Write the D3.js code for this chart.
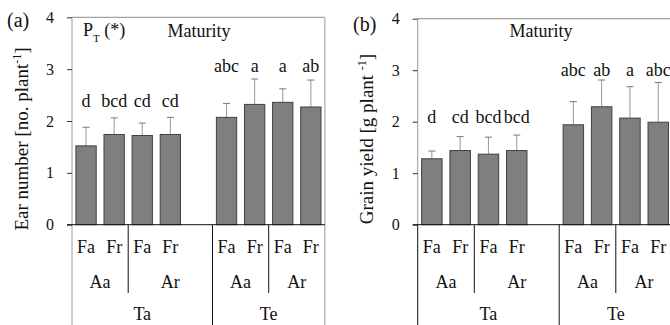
<!DOCTYPE html>
<html>
<head>
<meta charset="utf-8">
<script src="https://cdn.jsdelivr.net/npm/d3@7"></script>
<style>
  body { margin: 0; background: #fff; }
  text { font-family: "Liberation Serif", "Times New Roman", serif; fill: #111; }
</style>
</head>
<body>
<svg id="chart" width="670" height="325"></svg>
<script>
// treatment levels for each bar (left to right)
var temps = ["Ta", "Ta", "Ta", "Ta", "Te", "Te", "Te", "Te"];
var ages  = ["Aa", "Aa", "Ar", "Ar", "Aa", "Aa", "Ar", "Ar"];
var feeds = ["Fa", "Fr", "Fa", "Fr", "Fa", "Fr", "Fa", "Fr"];

// (a) ear number at maturity
var earNumber   = [1.52, 1.74, 1.72, 1.74, 2.07, 2.32, 2.36, 2.27];
var earNumberSd = [0.36, 0.32, 0.24, 0.33, 0.27, 0.49, 0.26, 0.52];
var earLetters  = ["d", "bcd", "cd", "cd", "abc", "a", "a", "ab"];

// (b) grain yield at maturity
var grainYield   = [1.28, 1.44, 1.37, 1.44, 1.94, 2.29, 2.07, 1.99];
var grainYieldSd = [0.15, 0.27, 0.33, 0.30, 0.45, 0.52, 0.61, 0.77];
var grainLetters = ["d", "cd", "bcd", "bcd", "abc", "ab", "a", "abc"];

var yTicks = [0, 1, 2, 3, 4];

var svg = d3.select('#chart');
var y0px = 224.7;
var bottom = 325;

// slot keys: one empty slot between the Ta and Te groups
var slotKeys = [];
temps.forEach(function (t, i) {
  if (i > 0 && t !== temps[i - 1]) slotKeys.push('gap');
  slotKeys.push(t + '|' + ages[i] + '|' + feeds[i]);
});

function drawPanel(p) {
  var g = svg.append('g');
  var pad = 0.277;
  var x = d3.scaleBand()
      .domain(slotKeys)
      .range([p.left, p.left + 9 * p.step])
      .paddingInner(pad)
      .paddingOuter(pad / 2);
  var y = d3.scaleLinear().domain([0, 4]).range([y0px, p.top]);
  var edge = function (i) { return x.range()[0] + i * x.step(); };
  var keyOf = function (i) { return temps[i] + '|' + ages[i] + '|' + feeds[i]; };
  var right = Math.min(x.range()[1], 670);

  // frame
  g.append('line').attr('x1', p.left).attr('x2', right)
      .attr('y1', p.top).attr('y2', p.top).attr('stroke', '#8c8c8c');
  g.append('line').attr('x1', p.left).attr('x2', p.left)
      .attr('y1', p.top).attr('y2', y0px).attr('stroke', '#9a9a9a');
  g.append('line').attr('x1', p.left).attr('x2', p.left)
      .attr('y1', y0px).attr('y2', bottom).attr('stroke', p.lowerAxisColor);
  if (x.range()[1] < 670) {
    g.append('line').attr('x1', x.range()[1]).attr('x2', x.range()[1])
        .attr('y1', p.top).attr('y2', bottom).attr('stroke', '#9a9a9a');
  }

  // y axis
  var ax = g.append('g')
      .attr('transform', 'translate(' + p.left + ',0)')
      .call(d3.axisLeft(y).tickValues(yTicks).tickSize(5).tickPadding(13).tickFormat(d3.format('d')));
  ax.select('.domain').remove();
  ax.selectAll('.tick line').attr('stroke', '#333');
  ax.selectAll('.tick text')
      .style('font-family', '"Liberation Serif", serif')
      .style('font-size', '16px').attr('fill', '#111');

  // bars
  var bars = g.selectAll('.bar').data(p.values).enter();
  bars.append('line')
      .attr('x1', function (d, i) { return x(keyOf(i)) + x.bandwidth() / 2; })
      .attr('x2', function (d, i) { return x(keyOf(i)) + x.bandwidth() / 2; })
      .attr('y1', function (d) { return y(d); })
      .attr('y2', function (d, i) { return y(d + p.sd[i]); })
      .attr('stroke', '#999');
  bars.append('line')
      .attr('x1', function (d, i) { return x(keyOf(i)) + x.bandwidth() / 2 - 3.5; })
      .attr('x2', function (d, i) { return x(keyOf(i)) + x.bandwidth() / 2 + 3.5; })
      .attr('y1', function (d, i) { return y(d + p.sd[i]); })
      .attr('y2', function (d, i) { return y(d + p.sd[i]); })
      .attr('stroke', '#777');
  bars.append('rect')
      .attr('x', function (d, i) { return x(keyOf(i)); })
      .attr('y', function (d) { return y(d); })
      .attr('width', x.bandwidth())
      .attr('height', function (d) { return y0px - y(d); })
      .attr('fill', '#7f7f7f')
      .attr('stroke', '#404040')
      .attr('stroke-width', 1);

  // significance letters
  g.selectAll('.letter').data(p.letters).enter()
    .append('text')
      .attr('x', function (d, i) { return x(keyOf(i)) + x.bandwidth() / 2; })
      .attr('y', function (d, i) { return y(p.letterLevel[temps[i]]); })
      .attr('text-anchor', 'middle')
      .style('font-size', '18px')
      .text(function (d) { return d; });

  // x axis line
  g.append('line').attr('x1', p.left - 5).attr('x2', right)
      .attr('y1', y0px).attr('y2', y0px).attr('stroke', '#111');

  // feed labels
  g.selectAll('.feed').data(feeds).enter()
    .append('text')
      .attr('x', function (d, i) { return x(keyOf(i)) + x.bandwidth() / 2; })
      .attr('y', 253)
      .attr('text-anchor', 'middle')
      .style('font-size', '18px')
      .text(function (d) { return d; });

  // age and temperature groups
  var tIdx = slotKeys.indexOf('Te|Aa|Fa');
  var ageGroups = [
    { label: 'Aa', from: 0, to: 2 },
    { label: 'Ar', from: 2, to: tIdx },
    { label: 'Aa', from: tIdx, to: tIdx + 2 },
    { label: 'Ar', from: tIdx + 2, to: 9 }
  ];
  var tempGroups = [
    { label: 'Ta', from: 0, to: tIdx },
    { label: 'Te', from: tIdx, to: 9 }
  ];
  g.selectAll('.age').data(ageGroups).enter()
    .append('text')
      .attr('x', function (d) { return (edge(d.from) + edge(d.to)) / 2; })
      .attr('y', 288)
      .attr('text-anchor', 'middle')
      .style('font-size', '18px')
      .text(function (d) { return d.label; });
  g.selectAll('.temp').data(tempGroups).enter()
    .append('text')
      .attr('x', function (d) { return (edge(d.from) + edge(d.to)) / 2; })
      .attr('y', 320)
      .attr('text-anchor', 'middle')
      .style('font-size', '18px')
      .text(function (d) { return d.label; });

  // separators
  [[2, 293], [tIdx, bottom], [tIdx + 2, 293]].forEach(function (s) {
    g.append('line').attr('x1', edge(s[0])).attr('x2', edge(s[0]))
        .attr('y1', y0px).attr('y2', s[1]).attr('stroke', '#111');
  });

  // titles
  g.append('text')
      .attr('x', p.maturityX).attr('y', 37)
      .attr('text-anchor', 'middle')
      .style('font-size', '18px')
      .text('Maturity');
  g.append('text')
      .attr('x', p.panelX).attr('y', p.panelY)
      .style('font-size', '20px')
      .text(p.panel);

  var yt = g.append('text')
      .attr('transform', 'translate(' + p.titleX + ',' + 139 + ') rotate(-90)')
      .attr('text-anchor', 'middle')
      .style('font-size', '19px');
  yt.append('tspan').text(p.title[0]);
  yt.append('tspan').attr('baseline-shift', 'super').style('font-size', '12px').text(p.title[1]);
  yt.append('tspan').text(p.title[2]);
  return g;
}

var ga = drawPanel({
  left: 72, step: 28.1, top: 17.3, lowerAxisColor: '#9a9a9a',
  values: earNumber, sd: earNumberSd, letters: earLetters,
  letterLevel: { Ta: 2.27, Te: 2.94 },
  maturityX: 199, panel: '(a)', panelX: 7, panelY: 27,
  titleX: 28, title: ['Ear number [no. plant', '-1', ']']
});

var pt = ga.append('text').attr('x', 83).attr('y', 36).style('font-size', '18px');
pt.append('tspan').text('P');
pt.append('tspan').attr('baseline-shift', 'sub').style('font-size', '11px').text('T');
pt.append('tspan').text(' (*)');

drawPanel({
  left: 417.7, step: 28.3, top: 18.7, lowerAxisColor: '#111',
  values: grainYield, sd: grainYieldSd, letters: grainLetters,
  letterLevel: { Ta: 1.98, Te: 2.89 },
  maturityX: 541, panel: '(b)', panelX: 353, panelY: 31,
  titleX: 373, title: ['Grain yield [g plant ', '-1', ']']
});
</script>
</body>
</html>
